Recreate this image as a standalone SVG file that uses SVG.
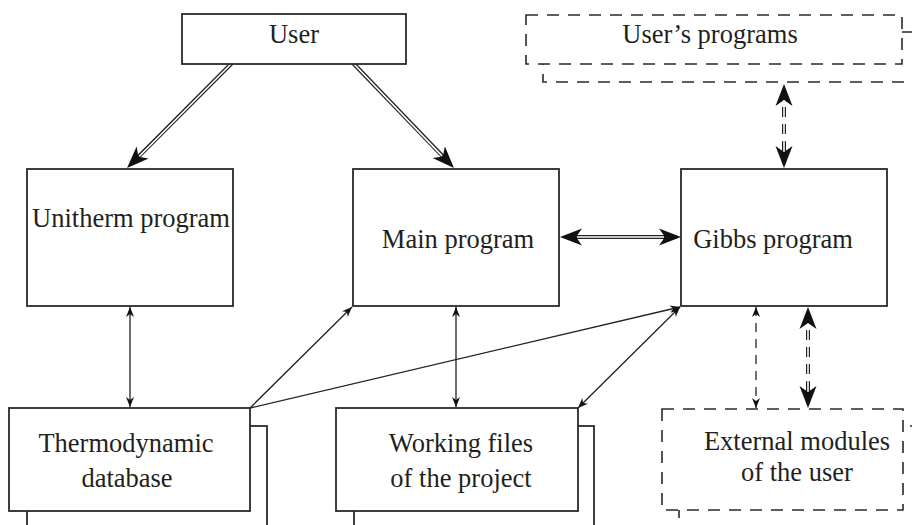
<svg xmlns="http://www.w3.org/2000/svg" width="912" height="525" viewBox="0 0 912 525">
<defs>
<style>
.box{fill:#fff;stroke:#2a2a2a;stroke-width:1.8}
.dbox{fill:#fff;stroke:#2a2a2a;stroke-width:1.6;stroke-dasharray:12 9}
.t{font-family:"Liberation Serif","Times New Roman",serif;font-size:26.5px;fill:#231f20;text-anchor:middle}
.thin{stroke:#222;stroke-width:1.3;fill:none}
.thind{stroke:#222;stroke-width:1.3;fill:none;stroke-dasharray:9 7}
.dblk{stroke:#222;stroke-width:4;fill:none}
.dblkd{stroke:#222;stroke-width:4;fill:none;stroke-dasharray:10 7}
.dwht{stroke:#fff;stroke-width:1.6;fill:none}
</style>
<marker id="big" markerUnits="userSpaceOnUse" markerWidth="24" markerHeight="20" viewBox="0 -10 24 20" refX="16" refY="0" orient="auto-start-reverse">
<path d="M0,-8.5 L22,0 L0,8.5 L6,0 z" fill="#111"/>
</marker>
<marker id="sm" markerUnits="userSpaceOnUse" markerWidth="12" markerHeight="10" viewBox="0 -5 12 10" refX="10" refY="0" orient="auto-start-reverse">
<path d="M0,-4 L10,0 L0,4 L3,0 z" fill="#111"/>
</marker>
</defs>
<rect width="912" height="525" fill="#fff"/>

<g id="connectors">
<!-- User -> Unitherm -->
<line class="dblk" x1="233" y1="62" x2="131.3" y2="163.8" marker-end="url(#big)"/>
<line class="dwht" x1="233" y1="62" x2="139.3" y2="156.2"/>
<!-- User -> Main -->
<line class="dblk" x1="352" y1="62" x2="449.8" y2="163.7" marker-end="url(#big)"/>
<line class="dwht" x1="352" y1="62" x2="442" y2="155.9"/>
<!-- Main <-> Gibbs -->
<line class="dblk" x1="566" y1="237" x2="675" y2="237" marker-start="url(#big)" marker-end="url(#big)"/>
<line class="dwht" x1="577" y1="237" x2="664" y2="237"/>
<!-- User's programs <-> Gibbs -->
<line class="dblkd" x1="784" y1="90" x2="784" y2="162" marker-start="url(#big)" marker-end="url(#big)"/>
<line class="dwht" x1="784" y1="100" x2="784" y2="151"/>
<!-- Gibbs <-> External (double dashed) -->
<line class="dblkd" x1="808" y1="313" x2="808" y2="402" marker-start="url(#big)" marker-end="url(#big)"/>
<line class="dwht" x1="808" y1="324" x2="808" y2="391"/>
<!-- Gibbs <-> External (single dashed) -->
<line class="thind" x1="756" y1="307" x2="756" y2="408" marker-start="url(#sm)" marker-end="url(#sm)"/>
<!-- Unitherm <-> Thermodynamic -->
<line class="thin" x1="130" y1="307" x2="130" y2="407" marker-start="url(#sm)" marker-end="url(#sm)"/>
<!-- Main <-> Working files -->
<line class="thin" x1="456" y1="307" x2="456" y2="407" marker-start="url(#sm)" marker-end="url(#sm)"/>
<!-- Thermodynamic -> Main -->
<line class="thin" x1="250" y1="408" x2="352" y2="307" marker-end="url(#sm)"/>
<!-- Thermodynamic -> Gibbs -->
<line class="thin" x1="250" y1="408" x2="680" y2="307" marker-end="url(#sm)"/>
<!-- Gibbs <-> Working files -->
<line class="thin" x1="680" y1="307" x2="578" y2="408" marker-start="url(#sm)" marker-end="url(#sm)"/>
</g>

<g id="user">
<rect class="box" x="182" y="14" width="224" height="50"/>
<text class="t" x="294" y="43">User</text>
</g>

<g id="users-programs">
<rect class="dbox" x="543" y="32" width="376" height="50"/>
<rect class="dbox" x="526" y="15" width="376" height="49"/>
<text class="t" x="710" y="43">User’s programs</text>
</g>

<g id="unitherm">
<rect class="box" x="27" y="169" width="206" height="137"/>
<text class="t" x="131" y="227">Unitherm program</text>
</g>

<g id="main">
<rect class="box" x="353" y="169" width="206" height="137"/>
<text class="t" x="458" y="248">Main program</text>
</g>

<g id="gibbs">
<rect class="box" x="681" y="169" width="206" height="137"/>
<text class="t" x="773" y="248">Gibbs program</text>
</g>

<g id="thermo">
<rect class="box" x="27" y="426" width="240" height="120"/>
<rect class="box" x="9" y="408" width="241" height="103"/>
<text class="t" x="126" y="452">Thermodynamic</text>
<text class="t" x="127" y="487">database</text>
</g>

<g id="working">
<rect class="box" x="354" y="426" width="240" height="120"/>
<rect class="box" x="336" y="408" width="242" height="103"/>
<text class="t" x="461" y="452">Working files</text>
<text class="t" x="461" y="487">of the project</text>
</g>

<g id="external">
<rect class="dbox" x="679" y="426" width="241" height="120"/>
<rect class="dbox" x="662" y="409" width="241" height="101"/>
<text class="t" x="797" y="450">External modules</text>
<text class="t" x="797" y="481">of the user</text>
</g>
</svg>
